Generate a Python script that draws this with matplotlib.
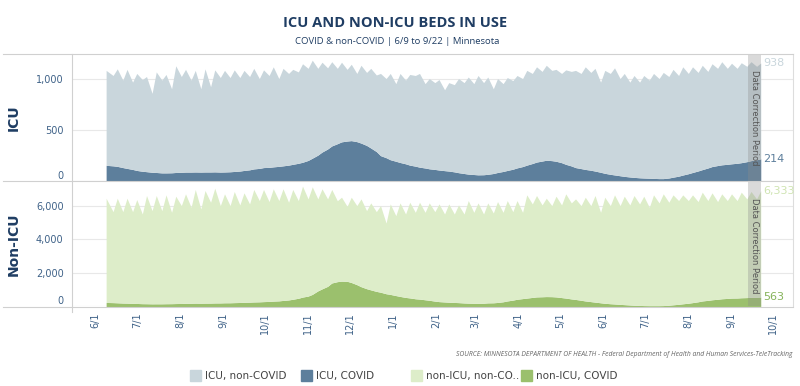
import pandas as pd
import matplotlib.pyplot as plt
from matplotlib.lines import Line2D
from matplotlib.patches import Rectangle
from matplotlib.transforms import ScaledTranslation

plt.rcParams['font.family'] = ['DejaVu Sans']

# one point on 6/9, then every Sunday (low) and Wednesday (high) up to 9/22
first_day = "2020-06-09"
sundays = pd.date_range("2020-06-14", periods=67, freq="7D")
wednesdays = pd.date_range("2020-06-17", periods=67, freq="7D")
dates = [pd.Timestamp(first_day)] + [d for pair in zip(sundays, wednesdays) for d in pair]

# ICU beds, all patients (top of the stack) and COVID patients
icu_all = [1080,
    1030, 1095, 985, 1090, 965, 1050, 990, 1020, 855, 1065, 985, 1040, 900, 1125, 1020, 1090,
    985, 1080, 900, 1095, 920, 1085, 1010, 1080, 1010, 1085, 1010, 1080, 1020, 1100, 1000, 1085,
    1030, 1115, 1000, 1100, 1050, 1090, 1065, 1145, 1100, 1180, 1100, 1160, 1105, 1165, 1100, 1160,
    1090, 1140, 1050, 1130, 1060, 1100, 1035, 1050, 1000, 1050, 950, 1050, 985, 1040, 1030, 1050,
    950, 1000, 960, 990, 890, 960, 940, 1000, 960, 1015, 950, 1030, 960, 1015, 900, 1000,
    950, 1010, 980, 1030, 1000, 1080, 1050, 1115, 1070, 1130, 1080, 1090, 1050, 1085, 1070, 1080,
    1050, 1115, 1060, 1100, 965, 1080, 1050, 1105, 1000, 1050, 965, 1030, 965, 1030, 985, 1050,
    1000, 1060, 1020, 1090, 1030, 1115, 1050, 1115, 1060, 1130, 1070, 1145, 1100, 1165, 1100, 1150,
    1100, 1155, 1120, 1165, 1120, 1152]
icu_covid = [150,
    145, 140, 128, 120, 110, 100, 92, 88, 82, 80, 76, 76, 77, 80, 82, 84,
    84, 85, 84, 85, 85, 86, 84, 85, 87, 90, 94, 100, 106, 115, 120, 128,
    130, 135, 140, 145, 152, 160, 170, 180, 198, 220, 250, 280, 310, 340, 362, 380,
    388, 392, 382, 368, 345, 320, 285, 245, 225, 205, 190, 178, 165, 152, 142, 132,
    124, 116, 110, 104, 98, 94, 86, 78, 70, 64, 60, 57, 58, 62, 70, 80,
    90, 100, 112, 125, 138, 152, 168, 182, 192, 200, 196, 190, 176, 160, 144, 128,
    118, 110, 102, 94, 82, 72, 62, 56, 48, 42, 36, 32, 28, 26, 24, 22,
    20, 20, 26, 34, 44, 55, 68, 80, 95, 108, 124, 138, 148, 155, 160, 165,
    170, 176, 186, 196, 205, 214]

# non-ICU beds, all patients (top of the stack) and COVID patients
non_icu_all = [6450,
    5650, 6450, 5650, 6450, 5650, 6370, 5510, 6610, 5710, 6610, 5710, 6650, 5610, 6570, 6010, 6710,
    5910, 6970, 5810, 6910, 6210, 7050, 6010, 6710, 6010, 6850, 6050, 6770, 6110, 6970, 6310, 6970,
    6250, 7010, 6310, 7010, 6210, 6970, 6310, 7170, 6410, 7130, 6410, 7010, 6410, 6970, 6300, 6510,
    5970, 6510, 6010, 6410, 5710, 6170, 5650, 6010, 4970, 6110, 5410, 6170, 5510, 6210, 5610, 6210,
    5610, 6170, 5650, 6110, 5510, 6110, 5510, 6050, 5510, 6310, 5610, 6170, 5510, 6170, 5570, 6250,
    5610, 6310, 5650, 6310, 5610, 6650, 6110, 6610, 6050, 6450, 6010, 6570, 6050, 6710, 6170, 6410,
    6010, 6510, 6010, 6610, 5610, 6510, 6010, 6650, 6010, 6570, 6050, 6610, 6110, 6570, 5910, 6650,
    6170, 6710, 6210, 6650, 6310, 6650, 6310, 6650, 6250, 6810, 6310, 6770, 6250, 6710, 6310, 6710,
    6310, 6810, 6410, 6850, 6410, 6896]
non_icu_covid = [240,
    230, 220, 205, 200, 185, 180, 168, 165, 158, 160, 160, 165, 168, 175, 180, 190,
    192, 200, 195, 200, 202, 210, 212, 220, 222, 230, 238, 250, 258, 270, 278, 290,
    302, 320, 335, 360, 390, 430, 490, 560, 620, 720, 930, 1050, 1200, 1400, 1480, 1510,
    1500, 1430, 1300, 1180, 1060, 990, 900, 850, 760, 720, 650, 600, 540, 510, 460, 440,
    400, 370, 320, 290, 270, 255, 240, 230, 210, 200, 190, 190, 195, 215, 220, 240,
    280, 330, 380, 430, 470, 500, 540, 570, 580, 590, 585, 570, 530, 500, 450, 420,
    370, 330, 290, 260, 220, 190, 165, 150, 125, 110, 90, 75, 62, 55, 50, 50,
    50, 55, 75, 100, 130, 160, 195, 230, 280, 330, 365, 400, 430, 460, 480, 500,
    505, 520, 530, 545, 550, 563]

end_values = {"ICU": [938, 214], "Non-ICU": [6333, 563]}
month_ticks = pd.date_range("2020-06-01", "2021-10-01", freq="MS")
legend_labels = ["ICU, non-COVID", "ICU, COVID", "non-ICU, non-CO..", "non-ICU, COVID"]

c_icu_non = "#c9d6dc"
c_icu_cov = "#5d7f9c"
c_non_non = "#ddedc9"
c_non_cov = "#9bc06d"
label_blue = "#3f6288"
navy = "#1f3d63"

fig = plt.figure(figsize=(8, 3.86), dpi=100)
ax1 = fig.add_axes([0.09, 0.532, 0.901, 0.328])
ax2 = fig.add_axes([0.09, 0.206, 0.901, 0.324])

ax1.fill_between(dates, 0, icu_covid, color=c_icu_cov, lw=0, zorder=2)
ax1.fill_between(dates, icu_covid, icu_all, color=c_icu_non, lw=0, zorder=2)
ax2.fill_between(dates, 0, non_icu_covid, color=c_non_cov, lw=0, zorder=2)
ax2.fill_between(dates, non_icu_covid, non_icu_all, color=c_non_non, lw=0, zorder=2)

ax1.set_ylim(0, 1240)
ax1.set_yticks([0, 500, 1000], ["0", "500", "1,000"])
ax2.set_ylim(0, 7450)
ax2.set_yticks([0, 2000, 4000, 6000], ["0", "2,000", "4,000", "6,000"])

band_start = pd.Timestamp("2021-09-13")
band_end = pd.Timestamp("2021-09-22 12:00")
lift = ScaledTranslation(0, 6 / 100, fig.dpi_scale_trans)
for ax, name, tops in [(ax1, "ICU", (icu_all[-1], icu_covid[-1])),
                       (ax2, "Non-ICU", (non_icu_all[-1], non_icu_covid[-1]))]:
    ax.set_xlim(pd.Timestamp("2020-05-15 12:00"), pd.Timestamp("2021-10-15"))
    ax.set_xticks(month_ticks)
    ax.tick_params(axis="y", length=0, labelsize=7, labelcolor=label_blue, pad=6)
    zero_label = ax.get_yticklabels()[0]
    zero_label.set_transform(zero_label.get_transform() + lift)
    ax.yaxis.grid(True, color="#e8e8e8", lw=0.8, zorder=3)
    for s in ["top", "bottom", "left"]:
        ax.spines[s].set_visible(False)
    ax.spines["right"].set_color("#dddddd")
    ax.set_ylabel(name, fontsize=10, fontweight="bold", color=navy)
    ax.yaxis.set_label_coords(-0.071, 0.5)
    ax.axvspan(band_start, band_end, color="#8c8c8c", alpha=0.32, lw=0, zorder=4)
    ax.text(band_start + (band_end - band_start) / 2, ax.get_ylim()[1] * 0.87,
            "Data Correction Period", rotation=-90, ha="center", va="top",
            fontsize=6, color="#555555", zorder=5)
    colors = [c_icu_non, c_icu_cov] if name == "ICU" else ["#cfe4b2", "#86b35a"]
    for y, val, col in zip(tops, end_values[name], colors):
        ax.text(pd.Timestamp("2021-09-23 12:00"), y, f"{val:,}", fontsize=8,
                color=col, va="center", ha="left", zorder=5)

ax1.tick_params(axis="x", length=0, labelbottom=False)
ax2.set_xticklabels([f"{d.month}/1" for d in month_ticks])
ax2.tick_params(axis="x", length=0, labelsize=7, labelcolor=label_blue, rotation=90, pad=4)

# frame lines
for yy in [54, 181, 307]:
    fig.add_artist(Line2D([0.004, 0.991], [1 - yy / 386] * 2, color="#d0d0d0", lw=0.8))
fig.add_artist(Line2D([0.09, 0.09], [1 - 54 / 386, 1 - 312 / 386], color="#d0d0d0", lw=0.8))

fig.text(0.494, 1 - 23 / 386, "ICU AND NON-ICU BEDS IN USE", ha="center", va="center",
         fontsize=10.5, fontweight="bold", color=navy, family="Open Sans")
fig.text(0.496, 1 - 41 / 386, "COVID & non-COVID | 6/9 to 9/22 | Minnesota", ha="center",
         va="center", fontsize=6.8, color=navy, family="Open Sans")
fig.text(0.991, 1 - 354 / 386,
         "SOURCE: MINNESOTA DEPARTMENT OF HEALTH - Federal Department of Health and Human Services-TeleTracking",
         ha="right", va="center", fontsize=4.9, style="italic", color="#666666", family="Open Sans")

legend_colors = [c_icu_non, c_icu_cov, c_non_non, c_non_cov]
legend_x = [190, 301, 411, 521]
for x, lab, col in zip(legend_x, legend_labels, legend_colors):
    fig.add_artist(Rectangle((x / 800, 1 - 381 / 386), 11 / 800, 11 / 386, color=col,
                             transform=fig.transFigure))
    fig.text((x + 15) / 800, 1 - 375.5 / 386, lab, ha="left", va="center", fontsize=7.5,
             color="#444444")

fig.savefig("out.png", dpi=100)
